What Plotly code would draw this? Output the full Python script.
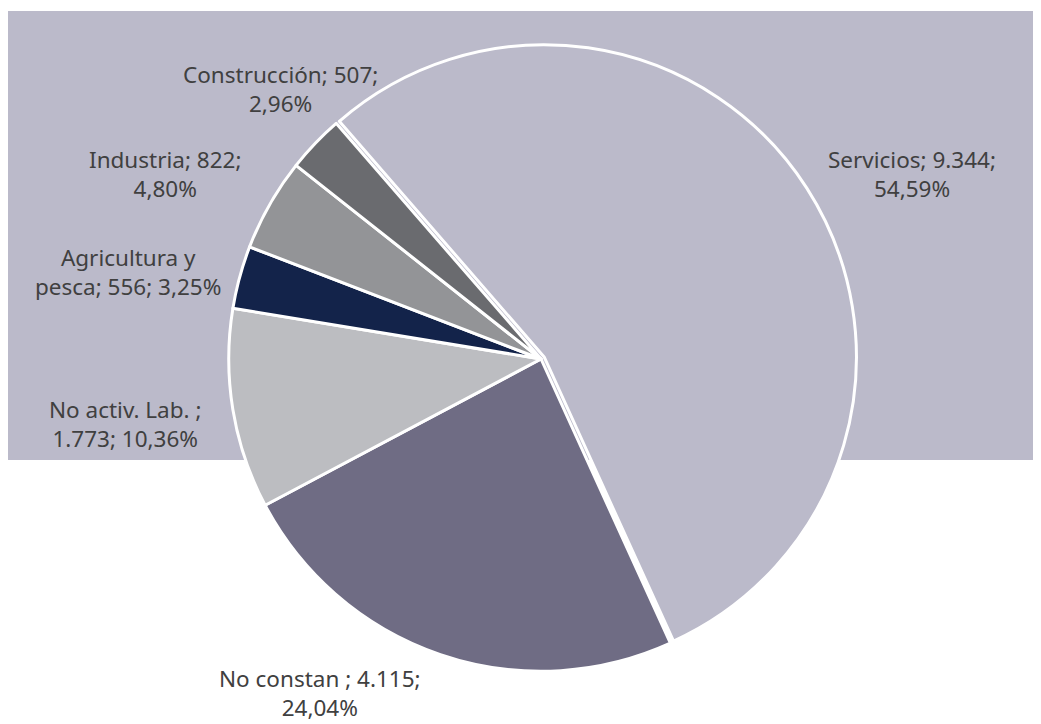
import plotly.graph_objects as go

# Data
categories = ["Servicios", "No constan", "No activ. Lab.", "Agricultura y pesca", "Industria", "Construcción"]
values = [9344, 4115, 1773, 556, 822, 507]
colors = ["#BBBACA", "#6F6C84", "#BCBDC1", "#13234A", "#939497", "#6A6B6F"]
# label text layouts ({v}=value, {p}=percentage)
label_templates = [
    "Servicios; {v};<br>{p}",
    "No constan ; {v};<br>{p}",
    "No activ. Lab. ;<br>{v}; {p}",
    "Agricultura y<br>pesca; {v}; {p}",
    "Industria; {v};<br>{p}",
    "Construcción; {v};<br>{p}",
]
# label anchor positions (pixels in the 1041x724 page)
label_pos = [(912, 174), (320, 693), (125, 424), (128, 272), (165, 174), (280, 89)]

OFF = 8  # page body margin
W, H = 1041 - OFF, 724 - OFF
total = sum(values)

def fmt_int(v):
    return f"{v:,}".replace(",", ".")

def fmt_pct(v):
    return f"{v / total * 100:.2f}".replace(".", ",") + "%"

def px(x):
    return (x - OFF) / W

def py(y):
    return 1 - (y - OFF) / H

fig = go.Figure()

cx, cy, R = 541, 359, 316
fig.add_trace(go.Pie(
    labels=categories,
    values=values,
    sort=False,
    direction="clockwise",
    rotation=-41,
    pull=[0.012, 0, 0, 0, 0, 0],
    marker=dict(colors=colors, line=dict(color="white", width=3)),
    textinfo="none",
    hoverinfo="label+value+percent",
    showlegend=False,
    domain=dict(x=[px(cx - R), px(cx + R)], y=[max(0, py(cy + R)), py(cy - R)]),
))

fig.add_shape(type="rect", xref="paper", yref="paper",
              x0=0, x1=1, y0=py(460), y1=py(11),
              fillcolor="#BBBACA", line=dict(width=0), layer="below")

for tpl, v, (lx, ly) in zip(label_templates, values, label_pos):
    fig.add_annotation(
        x=px(lx), y=py(ly), xref="paper", yref="paper",
        text=tpl.format(v=fmt_int(v), p=fmt_pct(v)),
        showarrow=False, xanchor="center", yanchor="middle", align="center",
        font=dict(family="Noto Sans", size=22.5, color="#404040"),
    )

fig.update_layout(
    width=W, height=H,
    margin=dict(l=0, r=0, t=0, b=0),
    paper_bgcolor="white",
    plot_bgcolor="white",
)

fig.write_html("out.html")
